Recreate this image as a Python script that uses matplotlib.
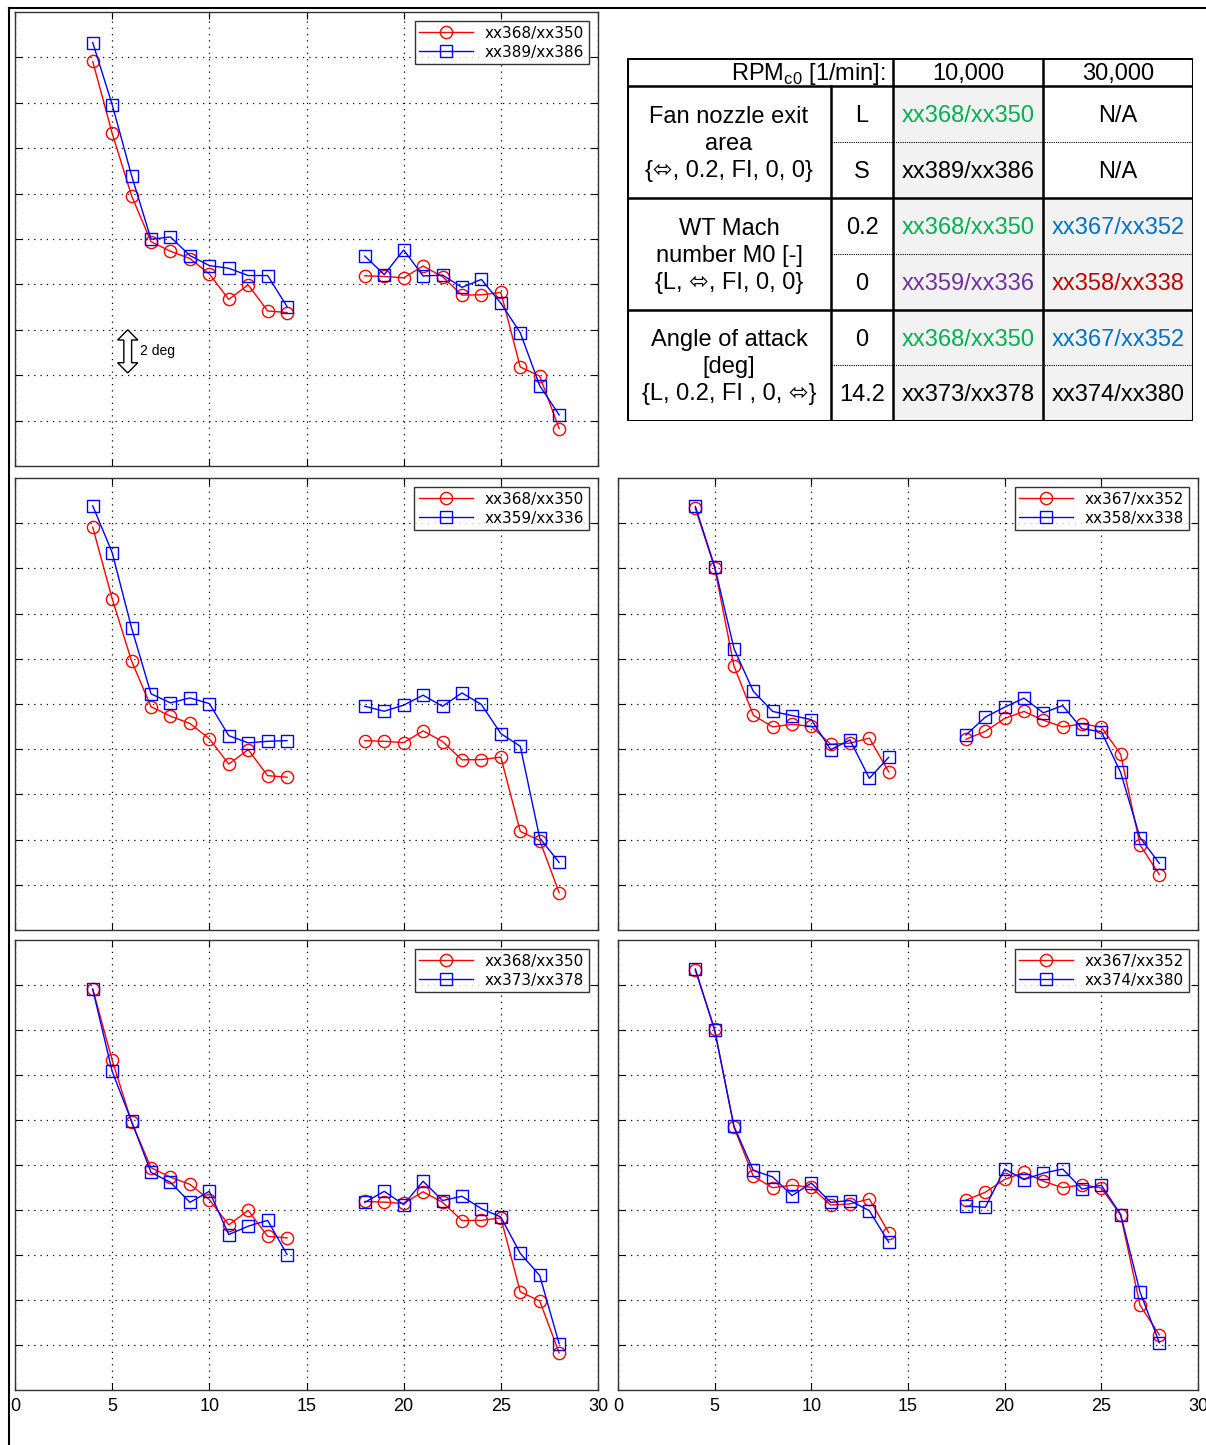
import numpy as np
import matplotlib
matplotlib.use('Agg')
import matplotlib.pyplot as plt
from matplotlib.lines import Line2D
from matplotlib.patches import Polygon, Rectangle

plt.rcParams['font.family'] = ['Liberation Sans', 'DejaVu Sans']
plt.rcParams['mathtext.fontset'] = 'custom'
plt.rcParams['mathtext.rm'] = 'Liberation Sans'

# angle positions, two groups (gap between 14 and 18)
aoa = [4, 5, 6, 7, 8, 9, 10, 11, 12, 13, 14, 18, 19, 20, 21, 22, 23, 24, 25, 26, 27, 28]
n_lo = 11

# values (y axis in deg, arbitrary offset, grid = 2 deg)
s368_350 = [17.82, 14.66, 11.90, 9.88, 9.46, 9.14, 8.46, 7.34, 7.98, 6.83, 6.76,
            8.38, 8.35, 8.29, 8.81, 8.34, 7.53, 7.54, 7.65, 4.36, 3.96, 1.65]
s389_386 = [18.65, 15.92, 12.79, 9.99, 10.09, 9.27, 8.83, 8.71, 8.39, 8.39, 7.02,
            9.25, 8.43, 9.52, 8.37, 8.41, 7.87, 8.22, 7.17, 5.87, 3.54, 2.25]
s359_336 = [18.77, 16.70, 13.36, 10.45, 10.05, 10.27, 10.02, 8.60, 8.28, 8.35, 8.38,
            9.90, 9.68, 9.95, 10.39, 9.90, 10.49, 9.98, 8.69, 8.13, 4.07, 2.99]
s367_352 = [18.66, 16.03, 11.68, 9.50, 8.99, 9.10, 9.01, 8.22, 8.27, 8.49, 7.00,
            8.44, 8.79, 9.36, 9.67, 9.28, 8.99, 9.12, 8.98, 7.77, 3.77, 2.45]
s358_338 = [18.74, 16.08, 12.45, 10.56, 9.67, 9.49, 9.31, 7.98, 8.41, 6.71, 7.64,
            8.63, 9.42, 9.86, 10.26, 9.61, 9.93, 8.90, 8.78, 6.97, 4.09, 2.95]
s373_378 = [17.81, 14.16, 11.94, 9.67, 9.23, 8.34, 8.83, 6.91, 7.28, 7.54, 6.02,
            8.34, 8.83, 8.24, 9.28, 8.42, 8.61, 8.06, 7.69, 6.07, 5.09, 2.06]
s374_380 = [18.71, 15.98, 11.72, 9.76, 9.47, 8.64, 9.20, 8.34, 8.42, 7.97, 6.57,
            8.17, 8.12, 9.82, 9.35, 9.64, 9.82, 8.93, 9.10, 7.80, 4.36, 2.10]

xticks = [0, 5, 10, 15, 20, 25, 30]
yticks = [2, 4, 6, 8, 10, 12, 14, 16, 18]

W, H = 1206, 1445
fig = plt.figure(figsize=(W / 100, H / 100), dpi=100)


def box(x0, y0, x1, y1):
    # pixel box (top-left origin) -> figure fraction rect
    return [x0 / W, 1 - y1 / H, (x1 - x0) / W, (y1 - y0) / H]


def draw_panel(rect, red, blue, red_lab, blue_lab, bottom=False):
    ax = fig.add_axes(rect)
    for vals, col, mk, lab in [(red, 'red', 'o', red_lab), (blue, 'blue', 's', blue_lab)]:
        ax.plot(aoa[:n_lo], vals[:n_lo], color=col, marker=mk, mfc='none', mec=col,
                ms=8.8, lw=1.0, mew=1.0, label=lab)
        ax.plot(aoa[n_lo:], vals[n_lo:], color=col, marker=mk, mfc='none', mec=col,
                ms=8.8, lw=1.0, mew=1.0)
    ax.set_xlim(0, 30)
    ax.set_ylim(0, 20)
    ax.set_xticks(xticks)
    ax.set_yticks(yticks)
    ax.set_yticklabels([])
    if bottom:
        ax.set_xticklabels([str(t) for t in xticks])
    else:
        ax.set_xticklabels([])
    ax.tick_params(direction='in', length=5, top=True, right=True, width=0.8, pad=6,
                   labelsize=13)
    ax.grid(True, color='black', linestyle=(0, (1, 4)), linewidth=0.9)
    for sp in ax.spines.values():
        sp.set_linewidth(1.0)
        sp.set_color('#333333')
    leg = ax.legend(loc='upper right', handlelength=3.5, frameon=True,
                    fancybox=False, borderaxespad=0.6, borderpad=0.3,
                    labelspacing=0.25, handletextpad=0.8,
                    prop={'family': 'DejaVu Sans', 'size': 11})
    leg.get_frame().set_edgecolor('black')
    leg.get_frame().set_linewidth(1.0)
    return ax


ax1 = draw_panel(box(15, 12, 598, 466), s368_350, s389_386, 'xx368/xx350', 'xx389/xx386')
draw_panel(box(15, 478, 598, 930), s368_350, s359_336, 'xx368/xx350', 'xx359/xx336')
draw_panel(box(618, 478, 1198, 930), s367_352, s358_338, 'xx367/xx352', 'xx358/xx338')
draw_panel(box(15, 940, 598, 1390), s368_350, s373_378, 'xx368/xx350', 'xx373/xx378', bottom=True)
draw_panel(box(618, 940, 1198, 1390), s367_352, s374_380, 'xx367/xx352', 'xx374/xx380', bottom=True)

# "2 deg" scale arrow in the first panel
cx, y0, y1 = 5.8, 4.1, 6.0
hw, sw, hl = 0.52, 0.2, 0.45
arrow = [(cx, y1), (cx + hw, y1 - hl), (cx + sw, y1 - hl), (cx + sw, y0 + hl),
         (cx + hw, y0 + hl), (cx, y0), (cx - hw, y0 + hl), (cx - sw, y0 + hl),
         (cx - sw, y1 - hl), (cx - hw, y1 - hl)]
ax1.add_patch(Polygon(arrow, closed=True, fc='white', ec='black', lw=1.0, zorder=5))
ax1.text(6.45, 5.05, '2 deg', fontsize=10, va='center', ha='left', zorder=6)

# page frame lines
fig.add_artist(Line2D([9 / W, 9 / W], [0, 1 - 8 / H], color='black', lw=1.5))
fig.add_artist(Line2D([9 / W, 1], [1 - 8 / H, 1 - 8 / H], color='black', lw=1.5))

# ---- table ----
tx0, tx1, ty0, ty1 = 627, 1193, 58, 421
tab = fig.add_axes(box(tx0, ty0, tx1, ty1))
tab.set_xlim(tx0, tx1)
tab.set_ylim(ty1, ty0)
tab.axis('off')

c1, c2, c3 = 831, 893, 1043
r_head, r1, r2 = 86, 198, 310
gray = '#f2f2f2'
tab.add_patch(Rectangle((c2, r_head), c3 - c2, ty1 - r_head, fc=gray, ec='none'))
tab.add_patch(Rectangle((c3, r1), tx1 - c3, ty1 - r1, fc=gray, ec='none'))

lw = 1.8
for y in [r_head, r1, r2]:
    tab.plot([tx0, tx1], [y, y], color='black', lw=lw)
for y in [142, 254, 365]:
    tab.plot([c1, tx1], [y, y], color='black', lw=0.8, linestyle=(0, (1, 1)))
tab.plot([c1, c1], [r_head, ty1], color='black', lw=lw)
for x in [c2, c3]:
    tab.plot([x, x], [ty0, ty1], color='black', lw=lw)
tab.add_patch(Rectangle((tx0, ty0), tx1 - tx0, ty1 - ty0, fc='none', ec='black', lw=2.2))

fs = 17
green, blue, purple, dred = '#00b050', '#0070c0', '#7030a0', '#c00000'
tab.text(886, 74, r'RPM$_{\rm c0}$ [1/min]:', fontsize=fs, ha='right', va='center')
tab.text(968, 74, '10,000', fontsize=fs, ha='center', va='center')
tab.text(1118, 74, '30,000', fontsize=fs, ha='center', va='center')

arr = '\u2b04'
groups = ['Fan nozzle exit\narea\n{%s, 0.2, FI, 0, 0}' % arr,
          'WT Mach\nnumber M0 [-]\n{L, %s, FI, 0, 0}' % arr,
          'Angle of attack\n[deg]\n{L, 0.2, FI , 0, %s}' % arr]
params = ['L', 'S', '0.2', '0', '0', '14.2']
col10k = ['xx368/xx350', 'xx389/xx386', 'xx368/xx350', 'xx359/xx336', 'xx368/xx350', 'xx373/xx378']
col30k = ['N/A', 'N/A', 'xx367/xx352', 'xx358/xx338', 'xx367/xx352', 'xx374/xx380']
clr10k = [green, 'black', green, purple, green, 'black']
clr30k = ['black', 'black', blue, dred, blue, 'black']
row_y = [116, 172, 228, 284, 340, 395]
group_y = [144, 256, 367]

for g, gy in zip(groups, group_y):
    tab.text(729, gy, g, fontsize=fs, ha='center', va='center', linespacing=1.32)
for i, y in enumerate(row_y):
    tab.text(862, y, params[i], fontsize=fs, ha='center', va='center')
    tab.text(968, y, col10k[i], fontsize=fs, ha='center', va='center', color=clr10k[i])
    tab.text(1118, y, col30k[i], fontsize=fs, ha='center', va='center', color=clr30k[i])

fig.savefig('out.png', dpi=100)
